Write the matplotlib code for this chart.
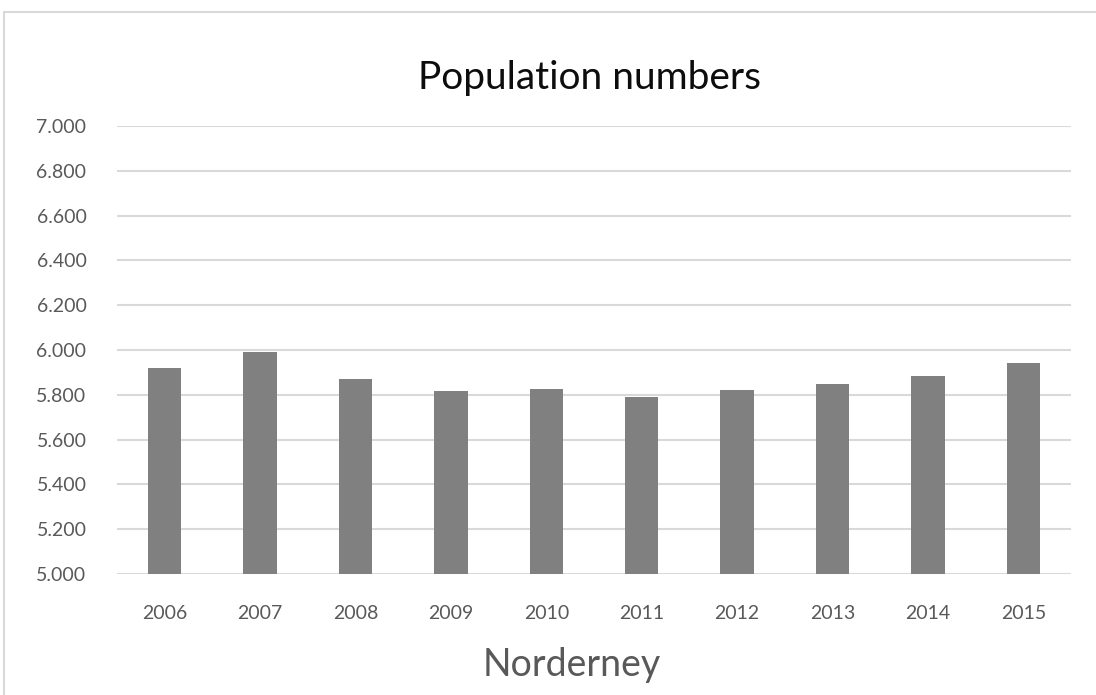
import matplotlib
matplotlib.use("Agg")
import matplotlib.pyplot as plt
from matplotlib.ticker import FuncFormatter, MultipleLocator
from matplotlib.patches import Rectangle

# Norderney population per year
years = ['2006', '2007', '2008', '2009', '2010', '2011', '2012', '2013', '2014', '2015']
population = [5921, 5992, 5869, 5818, 5825, 5792, 5823, 5850, 5883, 5942]

plt.rcParams['font.family'] = ['Lato', 'DejaVu Sans']

W, H = 1096, 695
fig = plt.figure(figsize=(W / 100, H / 100), dpi=100)

# light outer frame like the Excel chart area
fig.patches.append(Rectangle((4 / W, -0.1), 1.2, 1 - 12 / H + 0.1, transform=fig.transFigure,
                             fill=False, edgecolor='#d9d9d9', linewidth=1.5))

ax = fig.add_axes([117 / W, 1 - 574 / H, (1071 - 117) / W, (574 - 126) / H])
x = range(len(years))
ax.bar(x, population, width=0.35, color='#808080', zorder=3)

ax.set_xlim(-0.5, len(years) - 0.5)
ax.set_ylim(5000, 7000)
ax.yaxis.set_major_locator(MultipleLocator(200))
ax.yaxis.set_major_formatter(FuncFormatter(lambda v, p: f"{int(v):,}".replace(",", ".")))
ax.set_xticks(list(x))
ax.set_xticklabels(years)

ax.grid(axis='y', color='#d9d9d9', linewidth=1.5, zorder=0)
for s in ax.spines.values():
    s.set_visible(False)
ax.tick_params(axis='both', length=0, labelsize=14, colors='#595959')
ax.tick_params(axis='x', pad=22)
ax.tick_params(axis='y', pad=22)

fig.text(589 / W, 1 - 78 / H, 'Population numbers', ha='center', va='center',
         fontsize=28, color='#0d0d0d')
fig.text(572 / W, 1 - 665 / H, 'Norderney', ha='center', va='center',
         fontsize=27, color='#595959')

fig.savefig('out.png', dpi=100)
